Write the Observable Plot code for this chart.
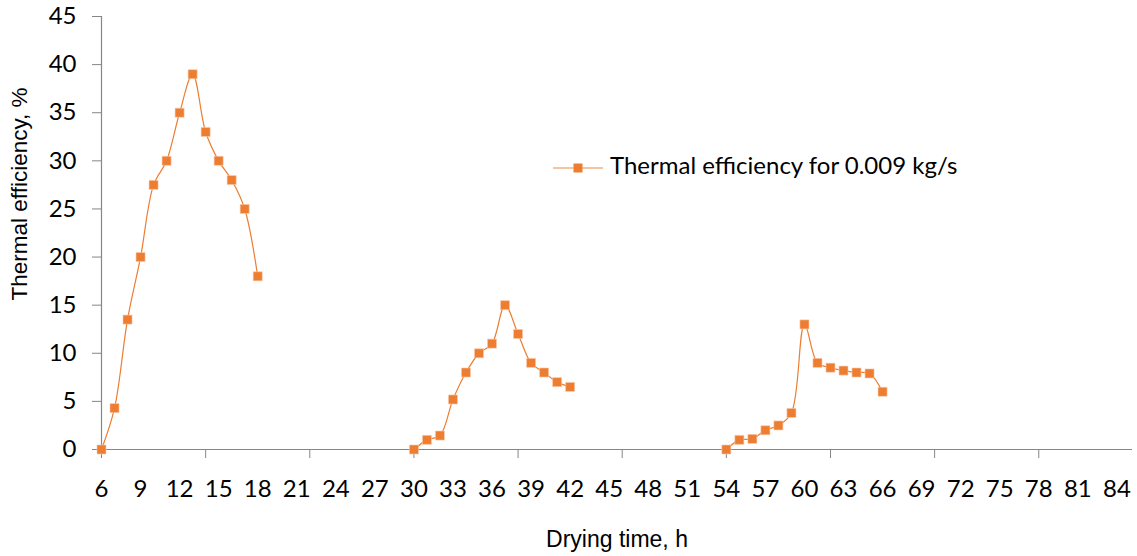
<!DOCTYPE html>
<html>
<head>
<meta charset="utf-8">
<script src="https://cdn.jsdelivr.net/npm/d3@7"></script>
<script src="https://cdn.jsdelivr.net/npm/@observablehq/plot@0.6"></script>
<style>
  html, body { margin: 0; padding: 0; background: #fff; }
  #chart svg { display: block; }
</style>
</head>
<body>
<div id="chart"></div>
<script>
// ---- data ----
const run1Hours = [6, 7, 8, 9, 10, 11, 12, 13, 14, 15, 16, 17, 18];
const run1Eff   = [0, 4.3, 13.5, 20, 27.5, 30, 35, 39, 33, 30, 28, 25, 18];
const run2Hours = [30, 31, 32, 33, 34, 35, 36, 37, 38, 39, 40, 41, 42];
const run2Eff   = [0, 1, 1.45, 5.2, 8, 10, 11, 15, 12, 9, 8, 7, 6.5];
const run3Hours = [54, 55, 56, 57, 58, 59, 60, 61, 62, 63, 64, 65, 66];
const run3Eff   = [0, 1, 1.1, 2, 2.5, 3.8, 13, 9, 8.5, 8.2, 8, 7.9, 6];

const xLabelTicks = d3.range(6, 85, 3);      // 6, 9, ..., 84
const xMarkTicks  = [6, 14, 22, 30, 38, 46, 54, 62, 70, 78];
const yTicks      = [0, 5, 10, 15, 20, 25, 30, 35, 40, 45];

const seriesName = "Thermal efficiency for 0.009 kg/s";
const xTitle = "Drying time, h";
const yTitle = "Thermal efficiency, %";

const color = "#ED7D31";
const axisGray = "#868686";

// table built from the arrays
const rows = [
  ...run1Hours.map((h, i) => ({hour: h, eff: run1Eff[i], run: 1})),
  ...run2Hours.map((h, i) => ({hour: h, eff: run2Eff[i], run: 2})),
  ...run3Hours.map((h, i) => ({hour: h, eff: run3Eff[i], run: 3}))
];

const W = 1137, H = 556;

const plot = Plot.plot({
  width: W,
  height: H,
  marginLeft: 101,
  marginRight: 5,
  marginTop: 16,
  marginBottom: 107,
  style: {fontFamily: "Lato, 'Open Sans', sans-serif", fontSize: "24px", color: "#000", background: "#fff"},
  x: {domain: [6, 85.2], label: null},
  y: {domain: [0, 45], label: null},
  marks: [
    Plot.ruleY([0], {stroke: axisGray, strokeWidth: 1.2}),
    Plot.ruleX([6], {stroke: axisGray, strokeWidth: 1.2}),
    Plot.axisY({ticks: yTicks, tickSize: 9, tickPadding: 16, stroke: axisGray, fill: "#000", fontSize: 24, label: null}),
    Plot.axisX({ticks: xMarkTicks, tickSize: 9, stroke: axisGray, text: null, label: null}),
    Plot.axisX({ticks: xLabelTicks, tickSize: 0, tickPadding: 30, fill: "#000", fontSize: 24, label: null, tickFormat: d => String(d)}),
    Plot.line(rows, {x: "hour", y: "eff", z: "run", stroke: color, strokeWidth: 1.2, curve: "catmull-rom"}),
    Plot.dot(rows, {x: "hour", y: "eff", symbol: "square", r: 5.1, fill: color, stroke: "#F8CBAD", strokeWidth: 0.6})
  ]
});

document.getElementById("chart").appendChild(plot);

const svg = d3.select(plot);

// axis titles
svg.append("text")
  .attr("x", 617).attr("y", 541)
  .attr("text-anchor", "middle").attr("dominant-baseline", "middle")
  .style("font-family", "'Liberation Sans', Arial, sans-serif").style("font-size", "23px").attr("fill", "#000")
  .text(xTitle);

svg.append("text")
  .attr("transform", "translate(21,194) rotate(-90)")
  .attr("text-anchor", "middle").attr("dominant-baseline", "middle")
  .style("font-family", "'Liberation Sans', Arial, sans-serif").style("font-size", "22.5px").attr("fill", "#000")
  .text(yTitle);

// legend
const lg = svg.append("g").attr("transform", "translate(553,168)");
lg.append("line").attr("x1", 0).attr("x2", 50).attr("y1", 0).attr("y2", 0)
  .attr("stroke", "#F4B183").attr("stroke-width", 1.5);
lg.append("rect").attr("x", 20.5).attr("y", -4.5).attr("width", 9).attr("height", 9).attr("fill", color);
lg.append("text").attr("x", 57).attr("y", 0)
  .attr("text-anchor", "start").attr("dominant-baseline", "middle")
  .style("font-family", "Lato, 'Open Sans', sans-serif").style("font-size", "24px").attr("fill", "#000")
  .text(seriesName);
</script>
</body>
</html>
